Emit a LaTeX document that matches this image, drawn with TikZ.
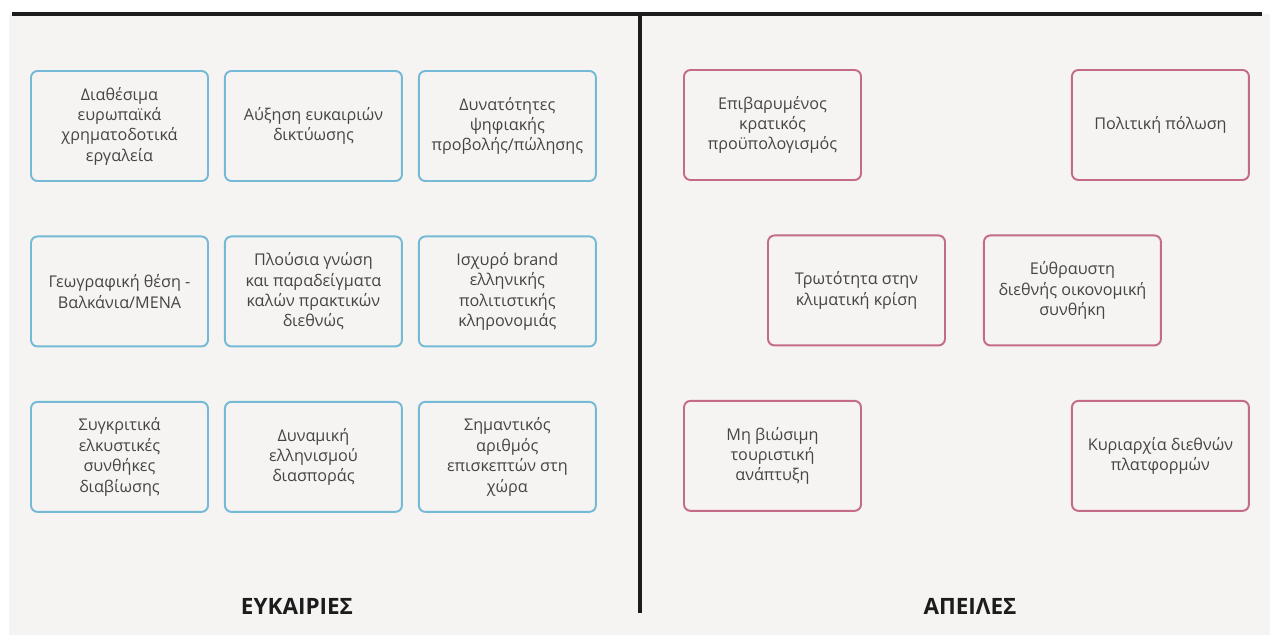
\documentclass[tikz,border=0pt]{standalone}
\usepackage{fontspec}
\setmainfont{Open Sans}
\usetikzlibrary{positioning}

\definecolor{oppblue}{HTML}{74B9D6}
\definecolor{thrpink}{HTML}{C46B86}
\definecolor{panelgrey}{HTML}{F5F4F2}
\definecolor{textgrey}{HTML}{454545}
\definecolor{rulegrey}{HTML}{1C1C1C}

\begin{document}
\begin{tikzpicture}[node distance=1.07cm and 0.3cm,
    card/.style={draw, rounded corners=0.13cm, line width=1.1pt, minimum width=3.54cm, minimum height=2.2cm, align=center, text=textgrey, font=\fontsize{9.2}{11.6}\selectfont, inner sep=2pt},
    oppbox/.style={card, draw=oppblue},
    thrbox/.style={card, draw=thrpink},
    title/.style={font=\bfseries\fontsize{12.8}{15}\selectfont, text=rulegrey}]
    \useasboundingbox (0,0) rectangle (25.58,-12.7);

    % Frame
    \fill[panelgrey] (0.18,-0.28) rectangle (25.4,-12.7);
    \draw[rulegrey, line width=0.08cm] (0.24,-0.28) -- (25.24,-0.28);
    \draw[rulegrey, line width=0.09cm] (12.8,-0.28) -- (12.8,-12.26);

    % Opportunities
    \node[oppbox] (O1) at (2.39,-2.52) {Διαθέσιμα\\ευρωπαϊκά\\χρηματοδοτικά\\εργαλεία};
    \node[oppbox, right=of O1] (O2) {Αύξηση ευκαιριών\\δικτύωσης};
    \node[oppbox, right=of O2] (O3) {Δυνατότητες\\ψηφιακής\\προβολής/πώλησης};
    \node[oppbox, below=of O1] (O4) {Γεωγραφική θέση -\\Βαλκάνια/MENA};
    \node[oppbox, right=of O4] (O5) {Πλούσια γνώση\\και παραδείγματα\\καλών πρακτικών\\διεθνώς};
    \node[oppbox, right=of O5] (O6) {Ισχυρό brand\\ελληνικής\\πολιτιστικής\\κληρονομιάς};
    \node[oppbox, below=of O4] (O7) {Συγκριτικά\\ελκυστικές\\συνθήκες\\διαβίωσης};
    \node[oppbox, right=of O7] (O8) {Δυναμική\\ελληνισμού\\διασποράς};
    \node[oppbox, right=of O8] (O9) {Σημαντικός\\αριθμός\\επισκεπτών στη\\χώρα};

    % Threats
    \node[thrbox] (T1) at (15.45,-2.5) {Επιβαρυμένος\\κρατικός\\προϋπολογισμός};
    \node[thrbox, right=4.18cm of T1] (T2) {Πολιτική πόλωση};
    \node[thrbox, below=of T1, xshift=1.68cm] (T3) {Τρωτότητα στην\\κλιματική κρίση};
    \node[thrbox, right=0.74cm of T3] (T4) {Εύθραυστη\\διεθνής οικονομική\\συνθήκη};
    \node[thrbox, below=of T3, xshift=-1.68cm] (T5) {Μη βιώσιμη\\τουριστική\\ανάπτυξη};
    \node[thrbox, right=4.18cm of T5] (T6) {Κυριαρχία διεθνών\\πλατφορμών};

    % Headings
    \node[title] (OppTitle) at (5.94,-12.12) {ΕΥΚΑΙΡΙΕΣ};
    \node[title] (ThrTitle) at (19.4,-12.12) {ΑΠΕΙΛΕΣ};
\end{tikzpicture}
\end{document}
